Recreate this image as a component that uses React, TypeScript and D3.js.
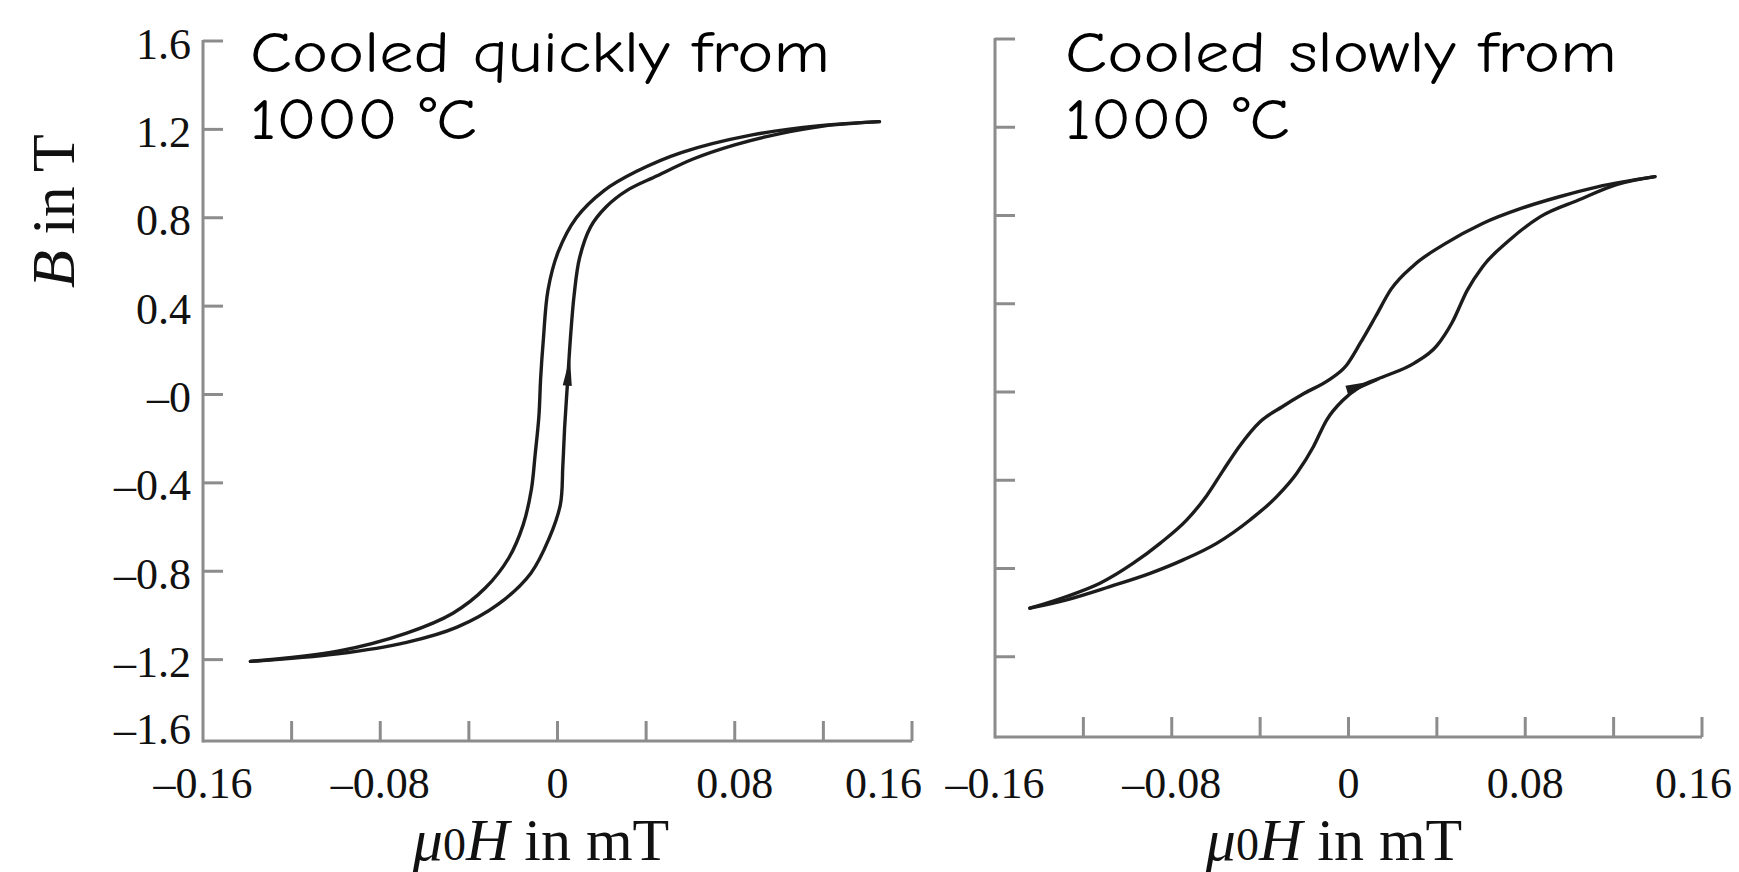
import React from "react";
import * as d3 from "d3";

// ---------- data ----------
const xTickValues = [-0.12, -0.08, -0.04, 0, 0.04, 0.08, 0.12, 0.16];
const xLabelValues = [-0.16, -0.08, 0, 0.08, 0.16];
const yTickValues = [1.6, 1.2, 0.8, 0.4, 0, -0.4, -0.8, -1.2];
const yLabelValues = [1.6, 1.2, 0.8, 0.4, 0, -0.4, -0.8, -1.2, -1.6];

const titles = ["Cooled quickly from", "Cooled slowly from"];
const titleLine2 = "1000 °C";

// quickly cooled: descending branch (from +Hmax to -Hmax)
const quickDescending: [number, number][] = [
  [0.1453, 1.235], [0.1184, 1.217], [0.0873, 1.174], [0.0562, 1.096], [0.0355, 1.009],
  [0.021, 0.923], [0.0086, 0.801], [0.0003, 0.645], [-0.0043, 0.472], [-0.0064, 0.247],
  [-0.0076, 0.074], [-0.0084, -0.099], [-0.0101, -0.273], [-0.0118, -0.43], [-0.0155, -0.59],
  [-0.022, -0.74], [-0.0325, -0.875], [-0.0472, -0.99], [-0.0681, -1.08], [-0.0992, -1.162],
  [-0.1386, -1.208],
];
// quickly cooled: ascending branch
const quickAscending: [number, number][] = [
  [-0.1386, -1.208], [-0.0992, -1.174], [-0.0681, -1.122], [-0.0453, -1.053], [-0.0267, -0.949],
  [-0.0121, -0.81], [-0.0039, -0.654], [0.0013, -0.498], [0.0024, -0.325], [0.0032, -0.152],
  [0.0045, 0.05], [0.0058, 0.25], [0.0075, 0.45], [0.01, 0.62], [0.015, 0.76],
  [0.022, 0.85], [0.0314, 0.924], [0.045, 0.99], [0.0612, 1.066], [0.08, 1.13],
  [0.1, 1.18], [0.12, 1.215], [0.1453, 1.235],
];
const quickArrow: [number, number][] = [[0.0044, 0.04], [0.0056, 0.17]];

// slowly cooled: descending branch
const slowDescending: [number, number][] = [
  [0.1387, 0.976], [0.1127, 0.93], [0.0954, 0.885], [0.0781, 0.832], [0.0607, 0.764],
  [0.0434, 0.67], [0.0296, 0.575], [0.0192, 0.465], [0.0122, 0.341], [0.0053, 0.221],
  [-0.001, 0.12], [-0.009, 0.054], [-0.02, -0.006], [-0.03, -0.067], [-0.04, -0.135],
  [-0.0495, -0.248], [-0.0567, -0.355], [-0.0642, -0.47], [-0.0732, -0.58], [-0.0853, -0.686],
  [-0.0974, -0.776], [-0.1125, -0.867], [-0.1276, -0.927], [-0.1442, -0.98],
];
// slowly cooled: ascending branch
const slowAscending: [number, number][] = [
  [-0.1442, -0.98], [-0.1276, -0.942], [-0.108, -0.882], [-0.0898, -0.822], [-0.0748, -0.761],
  [-0.0597, -0.686], [-0.0446, -0.58], [-0.0325, -0.474], [-0.0234, -0.368], [-0.0159, -0.248],
  [-0.0099, -0.127], [-0.0024, -0.036], [0.0052, 0.024], [0.0158, 0.069], [0.0296, 0.13],
  [0.04, 0.21], [0.0469, 0.315], [0.0538, 0.462], [0.0607, 0.568], [0.0729, 0.689],
  [0.0867, 0.794], [0.1041, 0.87], [0.1213, 0.94], [0.1387, 0.976],
];
const slowArrow: [number, number][] = [[-0.0008, 0.009], [0.0143, 0.054]];

// ---------- layout ----------
const W = 1739;
const H = 872;
const SERIF = "'Liberation Serif', 'Times New Roman', Times, serif";
const COMIC = "'Comic Sans MS', 'Comic Neue', 'Open Sans', sans-serif";
const AXIS = "#8c8c8c";
const INK = "#1c1c1c";

const fmt = (v: number) => {
  if (v === 0) return "0";
  const s = Math.abs(v).toString();
  return v < 0 ? "\u2013" + s : s;
};
const fmtY = (v: number) => {
  if (v === 0) return "\u20130";
  const s = Math.abs(v).toFixed(1);
  return v < 0 ? "\u2013" + s : s;
};

type PanelProps = {
  x0: number; x1: number; yTop: number; yBot: number; axisY: number;
  showYLabels: boolean; title: string; titleX: number;
  titleW1: number; titleW2: number; xTitleX: number;
  lastLabelShift: number; smooth: boolean;
  desc: [number, number][]; asc: [number, number][]; arrow: [number, number][];
};

function Panel(p: PanelProps) {
  const x = d3.scaleLinear().domain([-0.16, 0.16]).range([p.x0, p.x1]);
  const y = d3.scaleLinear().domain([-1.6, 1.6]).range([p.yBot, p.yTop]);
  const line = d3
    .line<[number, number]>()
    .x((d) => x(d[0]))
    .y((d) => y(d[1]))
    .curve(p.smooth ? d3.curveMonotoneX : d3.curveCatmullRom.alpha(0.5));
  const prep = (arr: [number, number][]) =>
    p.smooth ? [...arr].sort((a, b) => a[0] - b[0]) : arr;

  // arrowhead triangle (base -> tip)
  const [b, t] = p.arrow;
  const bx = x(b[0]), by = y(b[1]), tx = x(t[0]), ty = y(t[1]);
  const dx = tx - bx, dy = ty - by;
  const len = Math.hypot(dx, dy);
  const nx = -dy / len, ny = dx / len;
  const hw = 4.5;
  const arrowPts = `${bx + nx * hw},${by + ny * hw} ${tx},${ty} ${bx - nx * hw},${by - ny * hw}`;

  return (
    <g>
      {/* axes */}
      <g stroke={AXIS} strokeWidth={3} fill="none" filter="url(#soft)">
        <line x1={p.x0} x2={p.x0} y1={y(1.6) - 1} y2={p.axisY + 1.5} />
        <line x1={p.x0} x2={p.x1} y1={p.axisY} y2={p.axisY} />
        {yTickValues.map((v) => (
          <line key={"yt" + v} x1={p.x0} x2={p.x0 + 20} y1={y(v)} y2={y(v)} />
        ))}
        {xTickValues.map((v) => (
          <line key={"xt" + v} x1={x(v)} x2={x(v)} y1={p.axisY} y2={p.axisY - 20} />
        ))}
      </g>
      {/* y tick labels */}
      {p.showYLabels &&
        yLabelValues.map((v) => (
          <text
            key={"yl" + v}
            x={p.x0 - 12}
            y={v === -1.6 ? p.axisY - 12 : y(v) + 3}
            textAnchor="end"
            dominantBaseline="central"
            fontFamily={SERIF}
            fontSize={44}
            fill="#111"
          >
            {fmtY(v)}
          </text>
        ))}
      {/* x tick labels */}
      {xLabelValues.map((v, i) => {
        const last = i === xLabelValues.length - 1;
        return (
          <text
            key={"xl" + v}
            x={x(v) + (last ? p.lastLabelShift : 0)}
            y={798}
            textAnchor={last ? "end" : "middle"}
            fontFamily={SERIF}
            fontSize={44}
            fill="#111"
          >
            {fmt(v)}
          </text>
        );
      })}
      {/* x axis title */}
      <text x={p.xTitleX} y={860} textAnchor="middle" fontFamily={SERIF} fontSize={60} fill="#111">
        <tspan fontStyle="italic">μ</tspan>
        <tspan fontSize={46}>0</tspan>
        <tspan fontStyle="italic">H</tspan>
        <tspan> in mT</tspan>
      </text>
      {/* curves */}
      <g fill="none" stroke={INK} strokeWidth={3.4} strokeLinecap="round" filter="url(#soft)">
        <path d={line(prep(p.desc)) ?? ""} />
        <path d={line(prep(p.asc)) ?? ""} />
      </g>
      <polygon points={arrowPts} fill={INK} />
      {/* title */}
      <text fontFamily={COMIC} fontSize={58} fill="#000">
        <tspan x={p.titleX} y={72} textLength={p.titleW1} lengthAdjust="spacingAndGlyphs">
          {p.title}
        </tspan>
        <tspan x={p.titleX} y={139} textLength={p.titleW2} lengthAdjust="spacingAndGlyphs">
          {titleLine2}
        </tspan>
      </text>
    </g>
  );
}

export default function App() {
  return (
    <svg
      width={W}
      height={H}
      viewBox={`0 0 ${W} ${H}`}
      style={{ position: "absolute", left: 0, top: 0, display: "block", background: "#fff" }}
    >
      <defs>
        <filter id="soft" x="-5%" y="-5%" width="110%" height="110%">
          <feGaussianBlur stdDeviation="0.6" />
        </filter>
      </defs>
      <rect x={0} y={0} width={W} height={H} fill="#fff" />
      <Panel
        x0={203} x1={912} yTop={41} yBot={748} axisY={741}
        showYLabels={true} title={titles[0]} titleX={250}
        titleW1={580} titleW2={227} xTitleX={541} lastLabelShift={10} smooth={false}
        desc={quickDescending} asc={quickAscending} arrow={quickArrow}
      />
      <Panel
        x0={995} x1={1702} yTop={39} yBot={745} axisY={737}
        showYLabels={false} title={titles[1]} titleX={1065}
        titleW1={552} titleW2={225} xTitleX={1334} lastLabelShift={30} smooth={true}
        desc={slowDescending} asc={slowAscending} arrow={slowArrow}
      />
      <text
        transform="translate(74,211) rotate(-90)"
        textAnchor="middle"
        fontFamily={SERIF}
        fontSize={62}
        fill="#111"
      >
        <tspan fontStyle="italic">B</tspan>
        <tspan> in T</tspan>
      </text>
    </svg>
  );
}
